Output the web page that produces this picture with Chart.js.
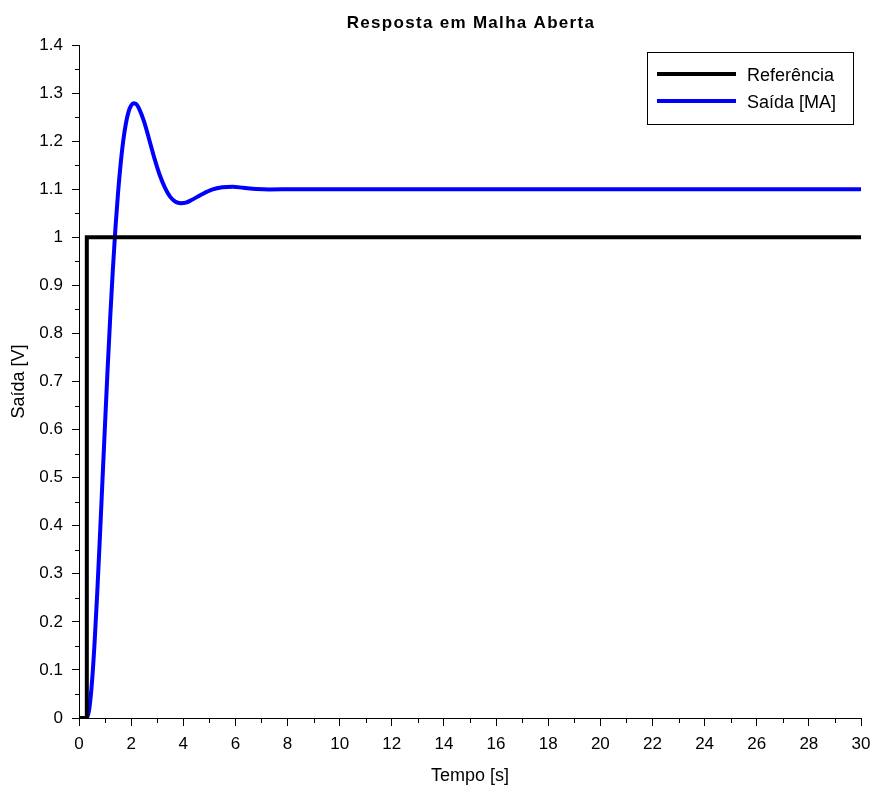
<!DOCTYPE html>
<html>
<head>
<meta charset="utf-8">
<title>Resposta em Malha Aberta</title>
<script src="https://cdn.jsdelivr.net/npm/chart.js@4"></script>
<style>
    body { margin: 0; background: #fff; }
    #wrap { width: 874px; height: 787px; }
</style>
</head>
<body>
<div id="wrap"><canvas id="chart"></canvas></div>
<script>
// values
const refTime = [0, 0.3, 0.3, 30];
const refValues = [0, 0, 1, 1];

const outTime = [
    0, 0.3, 0.4, 0.5, 0.6, 0.7, 0.8, 0.9, 1.0, 1.1, 1.2, 1.3, 1.4, 1.5, 1.6, 1.7,
    1.8, 1.9, 2.0, 2.1, 2.2, 2.3, 2.5, 2.7, 2.9, 3.1, 3.3, 3.5, 3.7, 3.9, 4.1, 4.3,
    4.7, 5.1, 5.5, 5.9, 6.3, 6.8, 7.3, 8.3, 10, 30,
];
const outValues = [
    0, 0, 0.021, 0.076, 0.159, 0.261, 0.374, 0.494, 0.613, 0.729, 0.836, 0.934, 1.021, 1.094, 1.154, 1.202,
    1.237, 1.261, 1.274, 1.279, 1.277, 1.268, 1.240, 1.202, 1.163, 1.129, 1.103, 1.084, 1.074, 1.071, 1.072, 1.077,
    1.089, 1.099, 1.104, 1.105, 1.103, 1.1005, 1.0995, 1.100, 1.100, 1.100,
];

const seriesLabels = ["Referência", "Saída [MA]"];
const titleText = "Resposta em Malha Aberta";
const xTitle = "Tempo [s]";
const yTitle = "Saída [V]";

const FONT = '"Liberation Sans", Arial, Helvetica, sans-serif';
Chart.defaults.font.family = FONT;
Chart.defaults.color = "#000";

const toPoints = (xs, ys) => xs.map((x, i) => ({ x, y: ys[i] }));

// minor ticks between the labelled ones
const minorTicks = {
    id: "minorTicks",
    afterDraw(chart) {
        const { ctx, scales: { x, y }, chartArea } = chart;
        ctx.save();
        ctx.strokeStyle = "#000";
        ctx.lineWidth = 1;
        ctx.beginPath();
        for (let v = 1; v < 30; v += 2) {
            const px = Math.round(x.getPixelForValue(v)) + 0.5;
            ctx.moveTo(px, chartArea.bottom);
            ctx.lineTo(px, chartArea.bottom + 5);
        }
        for (let i = 0; i < 14; i++) {
            const py = Math.round(y.getPixelForValue(i * 0.1 + 0.05)) + 0.5;
            ctx.moveTo(chartArea.left, py);
            ctx.lineTo(chartArea.left - 4, py);
        }
        ctx.stroke();
        ctx.restore();
    },
};

const plotTitle = {
    id: "plotTitle",
    afterDraw(chart) {
        const { ctx, chartArea } = chart;
        ctx.save();
        ctx.font = "bold 17px " + FONT;
        ctx.letterSpacing = "1.3px";
        ctx.fillStyle = "#000";
        ctx.textAlign = "center";
        ctx.textBaseline = "alphabetic";
        ctx.fillText(titleText, (chartArea.left + chartArea.right) / 2 + 1, 28);
        ctx.restore();
    },
};

// boxed legend in the top right corner of the plot
const boxLegend = {
    id: "boxLegend",
    afterDraw(chart) {
        const { ctx, chartArea } = chart;
        const w = 206, h = 72;
        const left = chartArea.right - 8 - w;
        const top = chartArea.top + 7;
        ctx.save();
        ctx.fillStyle = "#fff";
        ctx.fillRect(left, top, w, h);
        ctx.strokeStyle = "#000";
        ctx.lineWidth = 1;
        ctx.strokeRect(left + 0.5, top + 0.5, w, h);
        ctx.font = "18px " + FONT;
        ctx.textBaseline = "alphabetic";
        chart.data.datasets.forEach((ds, i) => {
            const yy = top + 22 + i * 27;
            ctx.strokeStyle = ds.borderColor;
            ctx.lineWidth = 4;
            ctx.beginPath();
            ctx.moveTo(left + 10, yy);
            ctx.lineTo(left + 89, yy);
            ctx.stroke();
            ctx.fillStyle = "#000";
            ctx.fillText(ds.label, left + 100, yy + 7);
        });
        ctx.restore();
    },
};

new Chart(document.getElementById("chart"), {
    type: "line",
    data: {
        datasets: [
            {
                label: seriesLabels[0],
                data: toPoints(refTime, refValues),
                borderColor: "#000000",
                borderWidth: 4,
                pointRadius: 0,
                tension: 0,
            },
            {
                label: seriesLabels[1],
                data: toPoints(outTime, outValues),
                borderColor: "#0000ff",
                borderWidth: 4,
                pointRadius: 0,
                cubicInterpolationMode: "monotone",
            },
        ],
    },
    options: {
        responsive: true,
        maintainAspectRatio: false,
        animation: false,
        layout: { padding: { top: 45, right: 13, left: 0, bottom: 0 } },
        plugins: {
            legend: { display: false },
            title: { display: false },
            tooltip: { enabled: false },
        },
        scales: {
            x: {
                type: "linear",
                min: 0,
                max: 30,
                afterFit: (s) => {
                    s.height = 69;
                    s.paddingLeft = 0;
                    s.paddingRight = 0;
                },
                ticks: { stepSize: 2, autoSkip: false, maxRotation: 0, padding: 8, font: { size: 17 } },
                grid: { drawOnChartArea: false, drawTicks: true, tickLength: 8, color: "#000" },
                border: { display: true, color: "#000", width: 1 },
                title: { display: true, text: xTitle, font: { size: 18 }, padding: { top: 0, bottom: 0 } },
            },
            y: {
                type: "linear",
                min: 0,
                max: 1.4,
                afterFit: (s) => {
                    s.width = 79;
                    s.paddingTop = 0;
                    s.paddingBottom = 0;
                },
                ticks: {
                    stepSize: 0.1,
                    autoSkip: false,
                    padding: 9,
                    font: { size: 17 },
                    callback: (v) => String(Number(v.toFixed(2))),
                },
                grid: { drawOnChartArea: false, drawTicks: true, tickLength: 7, color: "#000" },
                border: { display: true, color: "#000", width: 1 },
                title: { display: true, text: yTitle, font: { size: 18 }, padding: { top: 8, bottom: 0 } },
            },
        },
    },
    plugins: [minorTicks, plotTitle, boxLegend],
});
</script>
</body>
</html>
